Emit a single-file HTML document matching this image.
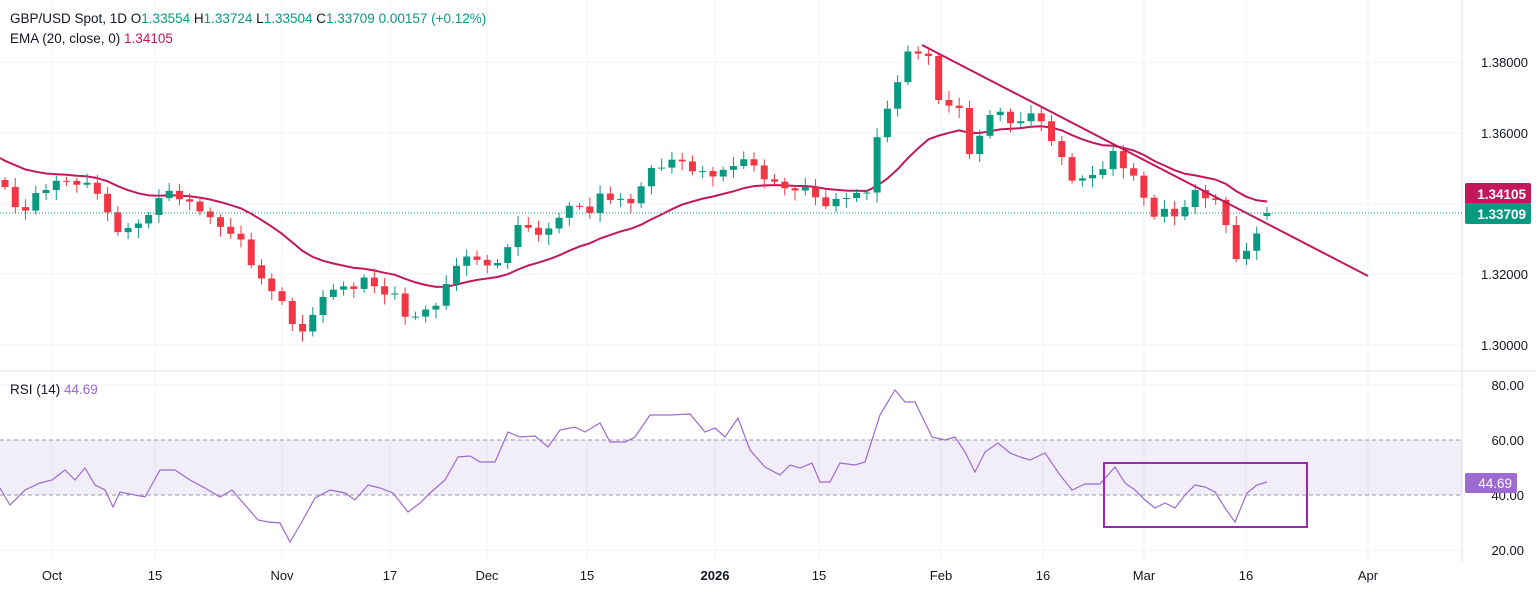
<!DOCTYPE html><html><head><meta charset="utf-8"><style>
body{margin:0;background:#fff;font-family:"Liberation Sans",sans-serif}
svg{display:block}
</style></head><body>
<svg id="s" width="1536" height="592" xmlns="http://www.w3.org/2000/svg" font-family="Liberation Sans, sans-serif"></svg>
<script>
const S=document.getElementById('s');let h='';
const W=1462;
// grids
const xl=[[52,'Oct'],[155,'15'],[282,'Nov'],[390,'17'],[487,'Dec'],[587,'15'],[715,'2026'],[819,'15'],[941,'Feb'],[1043,'16'],[1144,'Mar'],[1246,'16'],[1368,'Apr']];
xl.forEach(a=>{h+=`<line x1="${a[0]}" y1="0" x2="${a[0]}" y2="562" stroke="#f0f3fa"/>`});
[62,133,204,274,345].forEach(y=>h+=`<line x1="0" y1="${y}" x2="${W}" y2="${y}" stroke="#f0f3fa"/>`);
[385,550].forEach(y=>h+=`<line x1="0" y1="${y}" x2="${W}" y2="${y}" stroke="#f0f3fa"/>`);
h+=`<line x1="0" y1="371" x2="1536" y2="371" stroke="#e0e3eb"/>`;
h+=`<line x1="${W}" y1="0" x2="${W}" y2="562" stroke="#e0e3eb"/>`;
// RSI band
h+=`<rect x="0" y="440" width="${W}" height="55" fill="#7e57c2" fill-opacity="0.1"/>`;
h+=`<line x1="0" y1="440" x2="${W}" y2="440" stroke="#787b86" stroke-dasharray="4,3" stroke-width="0.8"/>`;
h+=`<line x1="0" y1="495" x2="${W}" y2="495" stroke="#787b86" stroke-dasharray="4,3" stroke-width="0.8"/>`;
// price path key points
const K=[[5,190],[20,215],[35,195],[52,185],[70,180],[90,185],[100,195],[115,235],[125,225],[140,225],[155,205],[170,190],[185,200],[200,210],[215,225],[230,230],[245,245],[255,275],[270,290],[285,300],[295,335],[310,325],[320,300],[335,285],[350,290],[365,280],[380,290],[395,295],[410,325],[425,310],[440,300],[455,265],[470,258],[485,262],[500,265],[510,240],[520,225],[535,230],[545,235],[560,215],[575,205],[590,210],[600,195],[615,200],[630,205],[640,185],[650,170],[665,165],[680,160],[695,170],[710,175],[720,175],[735,165],[745,155],[760,175],[775,185],[790,190],[800,185],[815,195],[825,210],[840,195],[855,195],[870,190],[880,120],[893,100],[903,55],[915,50],[930,60],[935,100],[945,100],[960,110],[970,155],[985,130],[995,100],[1010,125],[1020,120],[1035,115],[1045,125],[1055,145],[1065,165],[1075,185],[1085,180],[1100,170],[1115,150],[1125,170],[1135,180],[1145,200],[1155,215],[1165,210],[1175,215],[1185,210],[1195,190],[1205,195],[1215,200],[1225,220],[1237,265],[1247,250],[1257,230],[1267,218]];
function interp(x){for(let i=1;i<K.length;i++){if(x<=K[i][0]){const a=K[i-1],b=K[i];return a[1]+(b[1]-a[1])*(x-a[0])/(b[0]-a[0]);}}return K[K.length-1][1];}
const N=124,sp=(1267-5)/123;let prev=180,ema=158,ep=[];let cs='';
for(let i=0;i<N;i++){const x=5+i*sp;let c=interp(x)+((i*7)%5-2)*1.5;if(i==N-1)c=213;const o=(i==N-1)?216:prev;
const top=Math.min(o,c),bot=Math.max(o,c);const hi=top-3-((i*13)%7),lo=bot+3+((i*11)%8);
const col=c<o?'#089981':'#f23645';
cs+=`<line x1="${x}" y1="${hi}" x2="${x}" y2="${lo}" stroke="${col}"/><rect x="${x-3.5}" y="${top}" width="7" height="${Math.max(bot-top,1)}" fill="${col}"/>`;
ema=ema+(c-ema)*2/21;ep.push(x.toFixed(1)+','+ema.toFixed(1));prev=c;}
h+=`<polyline points="0,158 ${ep.join(' ')}" fill="none" stroke="#c2185b" stroke-width="2"/>`;
h+=cs;
h+=`<line x1="922" y1="45" x2="1368" y2="276" stroke="#c2185b" stroke-width="2"/>`;
h+=`<line x1="0" y1="213" x2="${W}" y2="213" stroke="#089981" stroke-dasharray="1,2"/>`;
// RSI
const R=[[0,488],[10,505],[25,490],[40,483],[52,480],[65,470],[75,480],[85,468],[95,485],[105,490],[113,507],[120,492],[135,495],[145,497],[160,470],[175,470],[190,480],[205,488],[220,497],[232,490],[245,505],[258,520],[268,522],[280,523],[290,542],[300,525],[315,498],[330,490],[345,493],[355,500],[368,485],[380,488],[393,493],[408,512],[420,503],[430,493],[445,480],[458,457],[470,456],[480,462],[495,462],[508,432],[520,437],[535,436],[548,447],[560,430],[575,427],[585,432],[600,423],[610,442],[625,442],[635,437],[650,415],[670,415],[690,414],[705,432],[715,428],[725,437],[738,418],[750,450],[765,467],[780,475],[790,465],[800,468],[812,463],[820,482],[830,482],[840,463],[855,465],[865,462],[880,415],[895,390],[905,402],[915,402],[932,437],[945,440],[955,437],[965,452],[975,472],[985,452],[998,443],[1010,453],[1020,457],[1030,460],[1045,453],[1060,475],[1072,490],[1085,484],[1100,484],[1115,467],[1125,483],[1135,490],[1145,500],[1155,508],[1165,503],[1175,508],[1185,495],[1195,485],[1205,487],[1215,492],[1225,508],[1235,522],[1247,493],[1257,485],[1267,482]];
h+=`<polyline points="${R.map(p=>p.join(',')).join(' ')}" fill="none" stroke="#9c6ad0" stroke-width="1.2"/>`;
h+=`<rect x="1104" y="463" width="203" height="64" fill="none" stroke="#9c27b0" stroke-width="2"/>`;
// axis labels
const pl=[[62,'1.38000'],[133,'1.36000'],[274,'1.32000'],[345,'1.30000']];
pl.forEach(a=>h+=`<text x="1528" y="${a[0]+5}" font-size="13" text-anchor="end" fill="#131722">${a[1]}</text>`);
[[385,'80.00'],[440,'60.00'],[495,'40.00'],[550,'20.00']].forEach(a=>h+=`<text x="1524" y="${a[0]+5}" font-size="13" text-anchor="end" fill="#131722">${a[1]}</text>`);
h+=`<rect x="1465" y="183" width="66" height="21" rx="2" fill="#c2185b"/><text x="1526" y="199" font-size="13.5" font-weight="bold" text-anchor="end" fill="#fff">1.34105</text>`;
h+=`<rect x="1465" y="203" width="66" height="21" rx="2" fill="#089981"/><text x="1526" y="219" font-size="13.5" font-weight="bold" text-anchor="end" fill="#fff">1.33709</text>`;
h+=`<rect x="1465" y="473" width="52" height="20" rx="2" fill="#9c6ad0"/><text x="1512" y="488" font-size="13.5" text-anchor="end" fill="#fff">44.69</text>`;
xl.forEach(a=>h+=`<text x="${a[0]}" y="580" font-size="13" text-anchor="middle" fill="#131722" ${a[1]=='2026'?'font-weight="bold"':''}>${a[1]}</text>`);
// header
h+=`<text x="10" y="23" font-size="13.5" fill="#131722">GBP/USD Spot, 1D  O<tspan fill="#089981">1.33554</tspan>  H<tspan fill="#089981">1.33724</tspan>  L<tspan fill="#089981">1.33504</tspan>  C<tspan fill="#089981">1.33709</tspan>  <tspan fill="#089981">0.00157 (+0.12%)</tspan></text>`;
h+=`<text x="10" y="43" font-size="13.5" fill="#131722">EMA (20, close, 0)  <tspan fill="#c2185b">1.34105</tspan></text>`;
h+=`<text x="10" y="394" font-size="13.5" fill="#131722">RSI (14)  <tspan fill="#9c6ad0">44.69</tspan></text>`;
S.innerHTML=h;
</script>
</body></html>
